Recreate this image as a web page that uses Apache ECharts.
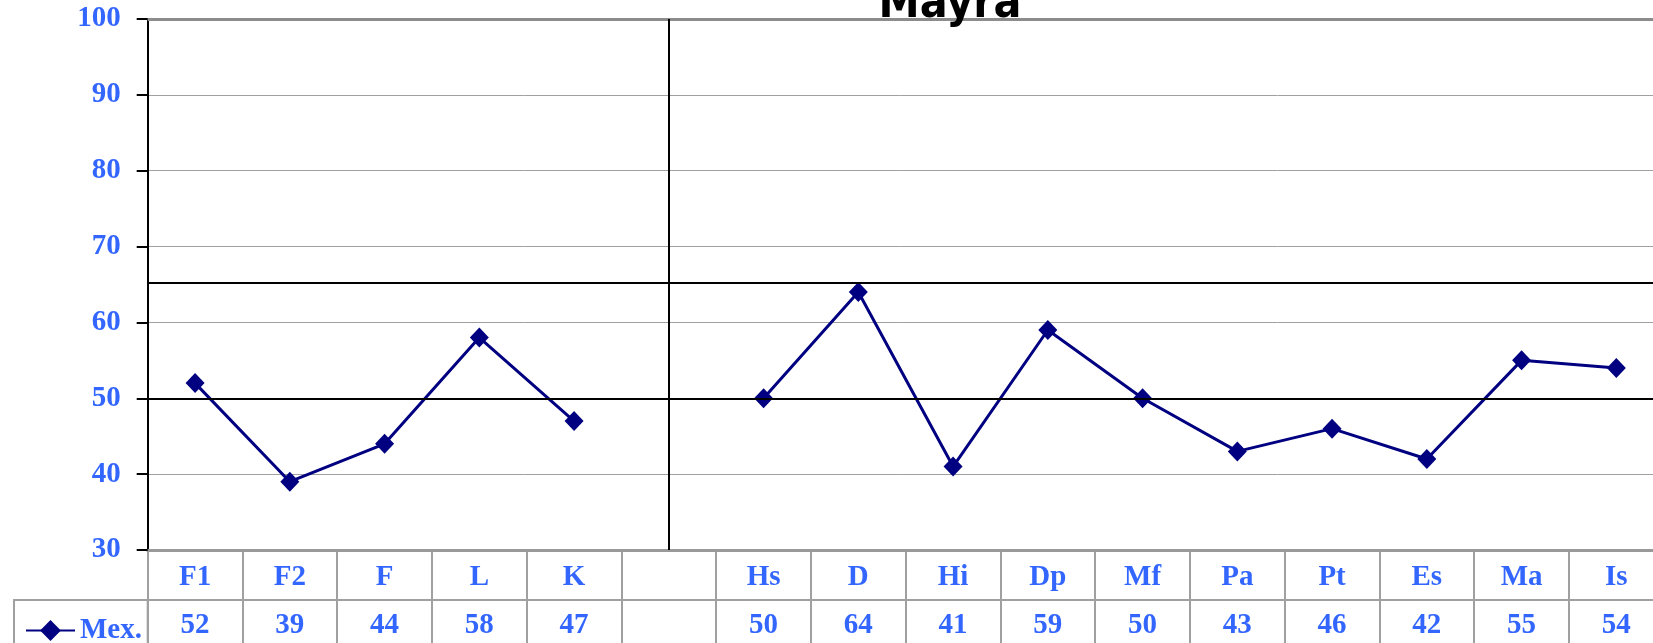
<!DOCTYPE html>
<html>
<head>
<meta charset="utf-8">
<script src="https://cdn.jsdelivr.net/npm/echarts@6/dist/echarts.min.js"></script>
<style>
  html, body { margin: 0; padding: 0; background: #fff; }
  #chart { width: 1653px; height: 643px; }
</style>
</head>
<body>
<div id="chart"></div>
<script>
// scales; the blank column splits validity scales from clinical scales
const scales = ['F1', 'F2', 'F', 'L', 'K', '', 'Hs', 'D', 'Hi', 'Dp', 'Mf', 'Pa', 'Pt', 'Es', 'Ma', 'Is'];
const mexValues = [52, 39, 44, 58, 47, null, 50, 64, 41, 59, 50, 43, 46, 42, 55, 54];
const seriesName = 'Mex.';
const chartTitle = 'Mayra';
const yTicks = [30, 40, 50, 60, 70, 80, 90, 100];
const meanLine = 50;
const cutoffLine = 65.2;
const dividerIndex = 5;

const blue = '#3366ff';
const navy = '#000080';
const labelFont = {
  color: blue,
  fontFamily: '"Liberation Serif", "Times New Roman", serif',
  fontWeight: 'bold',
  fontSize: 29
};

const colW = 94.75;
const plotLeft = 147.7;
const plotW = colW * scales.length;

const chart = echarts.init(document.getElementById('chart'));

const option = {
  animation: false,
  title: {
    text: chartTitle,
    left: 945,
    top: -23,
    textAlign: 'center',
    textStyle: {
      fontFamily: '"DejaVu Sans Condensed", "DejaVu Sans", sans-serif',
      fontWeight: 'bold',
      fontSize: 46,
      lineHeight: 46,
      color: '#000'
    }
  },
  legend: {
    data: [seriesName],
    left: 20,
    top: 611,
    itemWidth: 49,
    itemHeight: 26,
    textStyle: labelFont
  },
  graphic: [
    {
      type: 'rect',
      silent: true,
      shape: { x: 14, y: 600, width: plotLeft - 14, height: 60 },
      style: { fill: 'none', stroke: '#a0a0a0', lineWidth: 2 }
    }
  ],
  grid: [
    { left: plotLeft, top: 19, width: plotW, height: 531, outerBoundsMode: 'none', containLabel: false },
    { left: plotLeft, top: 550, width: plotW, height: 100, outerBoundsMode: 'none', containLabel: false }
  ],
  xAxis: [
    {
      type: 'category',
      gridIndex: 0,
      data: scales,
      axisLine: { lineStyle: { color: '#999', width: 3 } },
      axisTick: { show: false },
      axisLabel: Object.assign({ margin: 13, interval: 0 }, labelFont),
      splitLine: { show: false }
    },
    {
      type: 'category',
      gridIndex: 0,
      position: 'bottom',
      offset: 50,
      data: mexValues.map((v) => (v == null ? '' : String(v))),
      axisLine: { show: false },
      axisTick: { show: false },
      axisLabel: Object.assign({ margin: 11.5, interval: 0 }, labelFont)
    },
    {
      type: 'category',
      gridIndex: 1,
      data: scales,
      axisLine: { show: false },
      axisTick: { show: false },
      axisLabel: { show: false },
      splitLine: { show: true, interval: 0, lineStyle: { color: '#a0a0a0', width: 2 } }
    }
  ],
  yAxis: [
    {
      type: 'value',
      gridIndex: 0,
      min: yTicks[0],
      max: yTicks[yTicks.length - 1],
      interval: 10,
      axisLine: { show: true, lineStyle: { color: '#000', width: 2 } },
      axisTick: { show: true, length: 11, lineStyle: { color: '#000', width: 2 } },
      axisLabel: Object.assign({ margin: 27 }, labelFont),
      splitLine: { show: true, lineStyle: { color: '#a0a0a0', width: 1 } }
    },
    {
      type: 'value',
      gridIndex: 1,
      min: 0,
      max: 2,
      interval: 1,
      inverse: true,
      axisLine: { show: false },
      axisTick: { show: false },
      axisLabel: { show: false },
      splitLine: { show: true, lineStyle: { color: '#a0a0a0', width: 2 } }
    }
  ],
  series: [
    {
      name: seriesName,
      type: 'line',
      xAxisIndex: 0,
      yAxisIndex: 0,
      data: mexValues,
      connectNulls: false,
      symbol: 'diamond',
      symbolSize: [19, 20],
      color: navy,
      lineStyle: { color: navy, width: 3 },
      itemStyle: { color: navy },
      markLine: {
        silent: true,
        symbol: 'none',
        label: { show: false },
        data: [
          { yAxis: yTicks[yTicks.length - 1], lineStyle: { color: '#8c8c8c', width: 3, type: 'solid' } },
          { yAxis: meanLine, lineStyle: { color: '#000', width: 2, type: 'solid' } },
          { yAxis: cutoffLine, lineStyle: { color: '#000', width: 2, type: 'solid' } },
          { xAxis: dividerIndex, lineStyle: { color: '#000', width: 2, type: 'solid' } }
        ]
      }
    }
  ]
};

chart.setOption(option);
</script>
</body>
</html>
